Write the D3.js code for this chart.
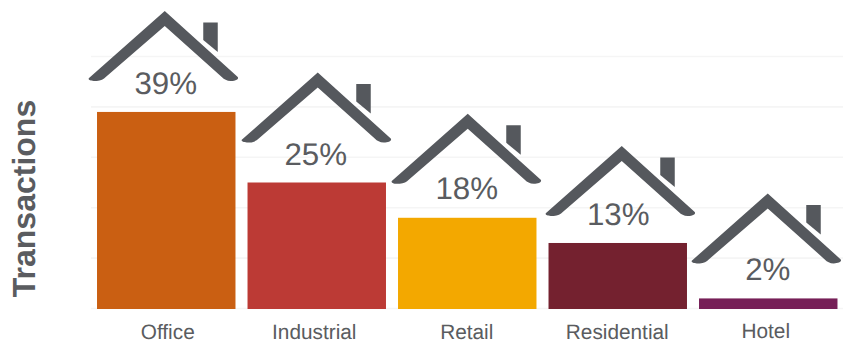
<!DOCTYPE html>
<html>
<head>
<meta charset="utf-8">
<script src="https://cdn.jsdelivr.net/npm/d3@7"></script>
<style>
html, body { margin: 0; padding: 0; background: #fff; }
svg { display: block; }
text { font-family: "Liberation Sans", Arial, sans-serif; fill: #5a5c60; text-rendering: geometricPrecision; }
</style>
</head>
<body>
<svg id="chart" width="843" height="342"></svg>
<script>
// Share of transactions by property type
const categories = ["Office", "Industrial", "Retail", "Residential", "Hotel"];
const shares = [39, 25, 18, 13, 2];
const gridTicks = [0, 10, 20, 30, 40, 50];
const barColors = ["#ca5f12", "#bc3a35", "#f3a800", "#74212f", "#761f57"];

// Per-house placement relative to each bar: roof peak, label baseline and name offsets
const roofLift = [101, 110, 104, 97, 105];
const roofShift = [-1.5, 1, 0.5, 4, -0.5];
const labelLift = [17.7, 18, 19, 18, 18];
const labelShift = [-0.5, -1, -0.5, 0.5, -0.5];
const nameShift = [1.5, -2.5, -0.5, -0.5, -2.5];
const nameRaise = [0, 0, 0, 0, 0.5];

const svg = d3.select("#chart");

const x = d3.scaleBand()
  .domain(categories)
  .range([91, 843.5])
  .paddingInner(0.08)
  .paddingOuter(0.04);

const y = d3.scaleLinear().domain([0, 50]).range([308.5, 56.5]);

// Horizontal gridlines
svg.append("g").selectAll("line")
  .data(gridTicks)
  .join("line")
  .attr("x1", 91)
  .attr("x2", 843)
  .attr("y1", d => y(d))
  .attr("y2", d => y(d))
  .attr("stroke", "#f5f5f5")
  .attr("stroke-width", 1.6);

// Bars
svg.append("g").selectAll("rect")
  .data(categories)
  .join("rect")
  .attr("x", d => x(d))
  .attr("width", x.bandwidth())
  .attr("y", (d, i) => y(shares[i]))
  .attr("height", (d, i) => y(0) - y(shares[i]) + 0.5)
  .attr("fill", (d, i) => barColors[i]);

// House roof with chimney, drawn around its peak at the origin
const roofPath = "M0,0 L73,66 C74.5,68 71,70 66,70 C62,69.8 59.5,68.5 57,66 L0,15 " +
  "L-59,66 C-61,68 -64,69.8 -68,70 C-72,70.3 -77,69.5 -76,67.3 Z";
const chimneyPath = "M38.5,11.5 L53,11.5 L53,41 L38.5,29 Z";

const houses = svg.append("g").selectAll("g")
  .data(categories)
  .join("g")
  .attr("transform", (d, i) =>
    `translate(${x(d) + x.bandwidth() / 2 + roofShift[i]},${y(shares[i]) - roofLift[i]})`);

houses.append("path").attr("d", roofPath).attr("fill", "#55585d");
houses.append("path").attr("d", chimneyPath).attr("fill", "#55585d");

// Percentage labels
svg.append("g").selectAll("text")
  .data(categories)
  .join("text")
  .attr("x", (d, i) => x(d) + x.bandwidth() / 2 + labelShift[i])
  .attr("y", (d, i) => y(shares[i]) - labelLift[i])
  .attr("text-anchor", "middle")
  .attr("font-size", 31.3)
  .text((d, i) => shares[i] + "%");

// Category labels
svg.append("g").selectAll("text")
  .data(categories)
  .join("text")
  .attr("x", (d, i) => x(d) + x.bandwidth() / 2 + nameShift[i])
  .attr("y", (d, i) => 338.5 - nameRaise[i])
  .attr("text-anchor", "middle")
  .attr("font-size", 20.8)
  .text(d => d);

// Axis title
svg.append("text")
  .attr("transform", "translate(35,198.5) rotate(-90)")
  .attr("text-anchor", "middle")
  .attr("font-size", 32)
  .attr("font-weight", "bold")
  .text("Transactions");
</script>
</body>
</html>
